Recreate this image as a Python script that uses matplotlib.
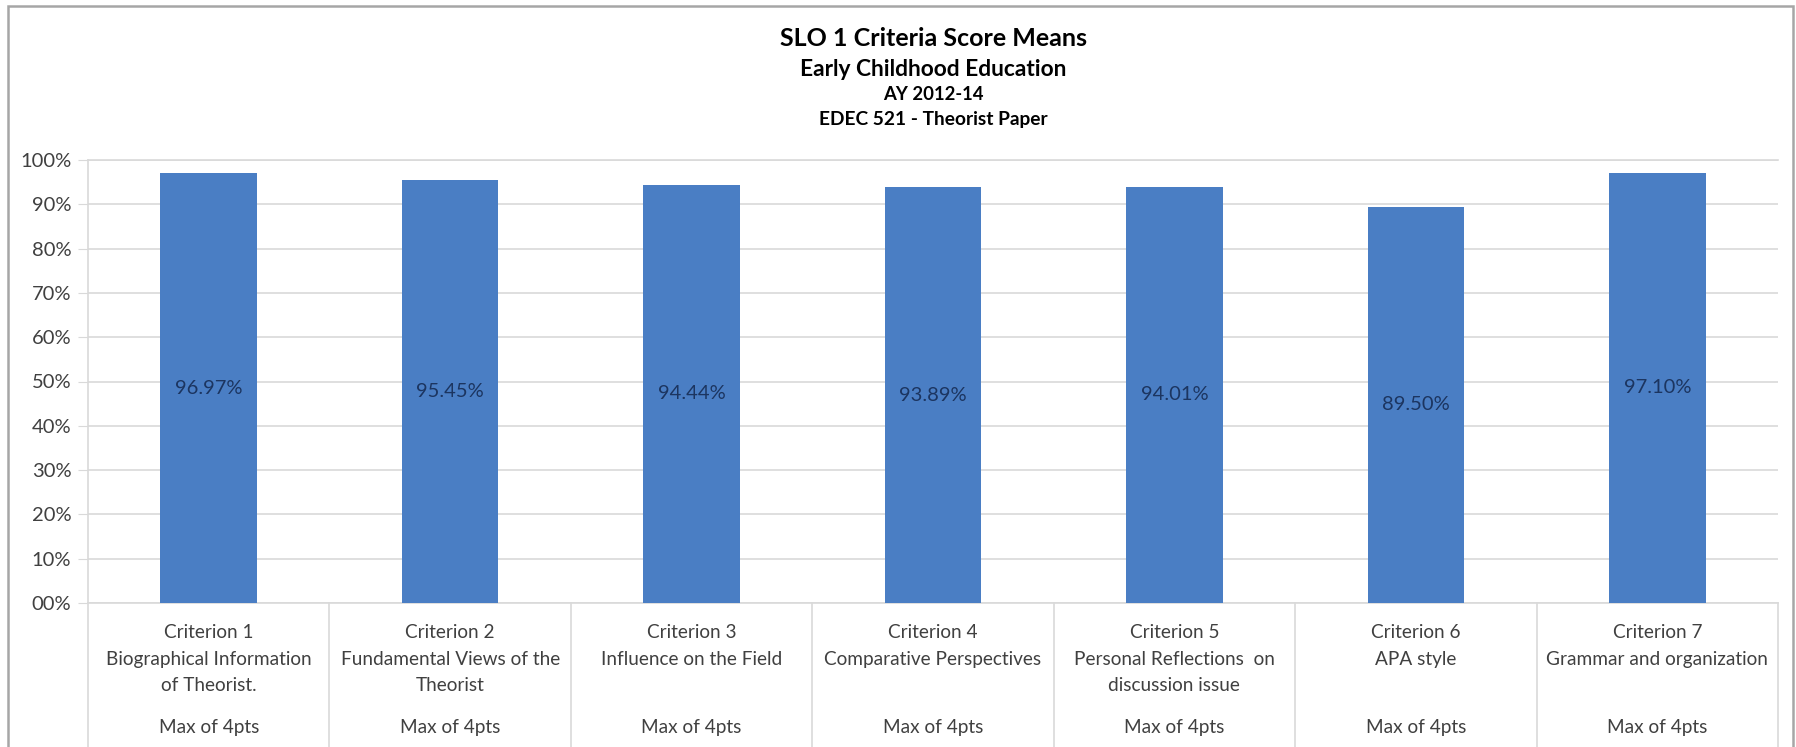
import matplotlib
matplotlib.use("Agg")
import matplotlib.pyplot as plt
from matplotlib.ticker import FuncFormatter, MultipleLocator
from matplotlib.patches import Rectangle
import matplotlib.transforms as mtransforms

plt.rcParams['font.family'] = ['Lato', 'DejaVu Sans']

# ---- data ----
criteria = ["Criterion 1", "Criterion 2", "Criterion 3", "Criterion 4",
            "Criterion 5", "Criterion 6", "Criterion 7"]
descriptions = ["Biographical Information\nof Theorist.",
                "Fundamental Views of the\nTheorist",
                "Influence on the Field",
                "Comparative Perspectives",
                "Personal Reflections  on\ndiscussion issue",
                "APA style",
                "Grammar and organization"]
max_labels = ["Max of 4pts"] * 7
values = [96.97, 95.45, 94.44, 93.89, 94.01, 89.50, 97.10]
value_labels = ["96.97%", "95.45%", "94.44%", "93.89%", "94.01%", "89.50%", "97.10%"]

title_lines = ["SLO 1 Criteria Score Means", "Early Childhood Education",
               "AY 2012-14", "EDEC 521 - Theorist Paper"]

W, H = 1796, 747
fig = plt.figure(figsize=(W / 100, H / 100), dpi=100)
fig.patch.set_facecolor("white")

# outer frame
fig.patches.append(Rectangle((8 / W, -0.01), (1793 - 8) / W, 1 - 6 / H + 0.01,
                             transform=fig.transFigure, fill=False,
                             edgecolor="#A6A6A6", linewidth=1.8))

left, right = 88, 1778
y0, y100 = 603, 160
ax = fig.add_axes([left / W, (H - y0) / H, (right - left) / W, (y0 - y100) / H])

x = list(range(len(values)))
ax.bar(x, values, width=0.4, color="#4A7EC4", zorder=3)
ax.set_xlim(-0.5, len(values) - 0.5)
ax.set_ylim(0, 100)
ax.yaxis.set_major_locator(MultipleLocator(10))
ax.yaxis.set_major_formatter(FuncFormatter(lambda v, p: f"{int(round(v)):02d}%"))
ax.grid(axis="y", color="#D9D9D9", linewidth=1.2, zorder=0)
ax.set_xticks([])
ax.tick_params(axis="y", length=7, color="#D9D9D9", labelsize=14.5,
               labelcolor="#404040", pad=5)
for s in ["top", "right", "bottom", "left"]:
    ax.spines[s].set_color("#D9D9D9")
    ax.spines[s].set_linewidth(1.2)
ax.spines["right"].set_visible(False)

for xi, v, lab in zip(x, values, value_labels):
    ax.text(xi, v / 2, lab, ha="center", va="center", fontsize=14.5,
            color="#1C3560", zorder=4)

# category separators
sep_tr = mtransforms.blended_transform_factory(ax.transData, ax.transAxes)
depth = (H - y0) / (y0 - y100)
for b in [i - 0.5 for i in range(len(values) + 1)]:
    ax.plot([b, b], [0, -depth], transform=sep_tr, color="#D9D9D9",
            linewidth=1.2, clip_on=False, zorder=1)

# category labels
lab_tr = mtransforms.blended_transform_factory(ax.transData, fig.transFigure)
for xi, c, d, m in zip(x, criteria, descriptions, max_labels):
    ax.text(xi, 1 - 624 / H, c + "\n" + d, transform=lab_tr, ha="center",
            va="top", fontsize=13.7, color="#404040", linespacing=1.68)
    ax.text(xi, 1 - 727 / H, m, transform=lab_tr, ha="center",
            va="center", fontsize=13.7, color="#404040")

# titles
ys = [39, 70, 95, 119]
sizes = [18, 16.4, 13.3, 13.8]
for t, yy, sz in zip(title_lines, ys, sizes):
    fig.text(0.5 * (left + right) / W, 1 - yy / H, t, ha="center", va="center",
             fontsize=sz, fontweight="bold", color="#000000")

fig.savefig("out.png", dpi=100)
